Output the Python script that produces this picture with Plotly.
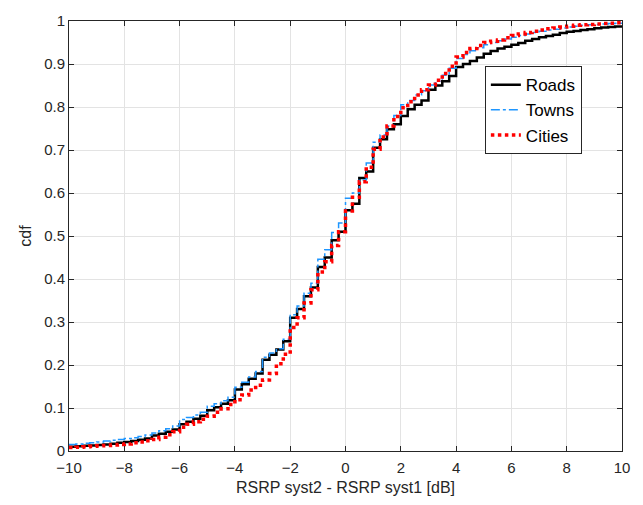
import plotly.graph_objects as go

x_db = [-10 + 0.25 * i for i in range(81)]

roads = [.010, .011, .012, .013, .014, .015, .017, .019, .021, .023, .026, .029,
         .036, .040, .045, .050, .062, .068, .075, .082, .095, .102, .110, .118,
         .143, .155, .168, .180, .212, .224, .236, .255, .310, .330, .360, .380,
         .428, .450, .490, .510, .560, .575, .635, .650, .705, .725, .748, .760,
         .779, .795, .805, .815, .840, .850, .860, .872, .893, .900, .907, .915,
         .924, .930, .936, .940, .945, .949, .954, .958, .962, .965, .968, .972,
         .975, .977, .979, .981, .983, .985, .986, .987, .988]

towns = [.015, .016, .018, .019, .021, .023, .025, .027, .029, .031, .034, .037,
         .042, .047, .052, .058, .073, .078, .084, .090, .104, .110, .117, .125,
         .148, .160, .172, .185, .218, .228, .238, .260, .317, .337, .367, .390,
         .446, .468, .508, .530, .588, .600, .630, .670, .718, .735, .756, .780,
         .805, .815, .828, .838, .851, .860, .874, .890, .913, .922, .931, .938,
         .945, .950, .954, .958, .962, .966, .970, .973, .976, .979, .981, .984,
         .986, .988, .990, .991, .992, .993, .994, .995, .995]

cities = [.008, .009, .010, .011, .012, .013, .014, .015, .016, .019, .021, .024,
          .027, .032, .038, .045, .055, .062, .068, .074, .081, .090, .098, .108,
          .119, .130, .142, .153, .165, .180, .203, .225, .287, .310, .344, .375,
          .416, .440, .478, .510, .558, .590, .626, .660, .702, .730, .756, .778,
          .798, .812, .828, .840, .851, .862, .878, .895, .916, .927, .936, .943,
          .950, .953, .956, .961, .966, .970, .973, .976, .979, .982, .984, .986,
          .988, .990, .991, .992, .993, .994, .995, .996, .996]

x_ticks = list(range(-10, 11, 2))
y_ticks = [round(0.1 * i, 1) for i in range(11)]
y_ticklabels = ["0", "0.1", "0.2", "0.3", "0.4", "0.5", "0.6", "0.7", "0.8", "0.9", "1"]

fig = go.Figure()
fig.add_trace(go.Scatter(x=x_db, y=roads, mode="lines", name="Roads", line_shape="hv",
                         line=dict(color="black", width=2.5)))
fig.add_trace(go.Scatter(x=x_db, y=towns, mode="lines", name="Towns", line_shape="hv",
                         line=dict(color="#1E96FF", width=1.5, dash="dashdot")))
fig.add_trace(go.Scatter(x=x_db, y=cities, mode="lines", name="Cities", line_shape="hv",
                         line=dict(color="#FF0000", width=3.5, dash="dot")))

axis_common = dict(
    showline=True, linecolor="#262626", linewidth=1, mirror="ticks",
    ticks="inside", ticklen=5, tickcolor="#262626",
    showgrid=True, gridcolor="#e3e3e3", gridwidth=1,
    zeroline=False,
    tickfont=dict(family="Liberation Sans, Arial", size=15, color="#262626"),
)

fig.update_layout(
    width=643, height=505,
    margin=dict(l=69, r=21, t=15, b=53),
    paper_bgcolor="white", plot_bgcolor="white",
    font=dict(family="Liberation Sans, Arial", color="#262626"),
    xaxis=dict(range=[-10, 10], tickvals=x_ticks, ticklabelstandoff=3,
               title=dict(text="RSRP syst2 - RSRP syst1 [dB]", font=dict(size=16), standoff=6),
               **axis_common),
    yaxis=dict(range=[0, 1], tickvals=y_ticks, ticktext=y_ticklabels,
               title=dict(text="cdf", font=dict(size=16), standoff=8),
               **axis_common),
    legend=dict(x=0.752, y=0.895, xanchor="left", yanchor="top",
                bgcolor="white", bordercolor="#262626", borderwidth=1,
                font=dict(size=17, color="black"), tracegroupgap=0,
                itemwidth=30),
    showlegend=True,
)

fig.write_html("out.html")
